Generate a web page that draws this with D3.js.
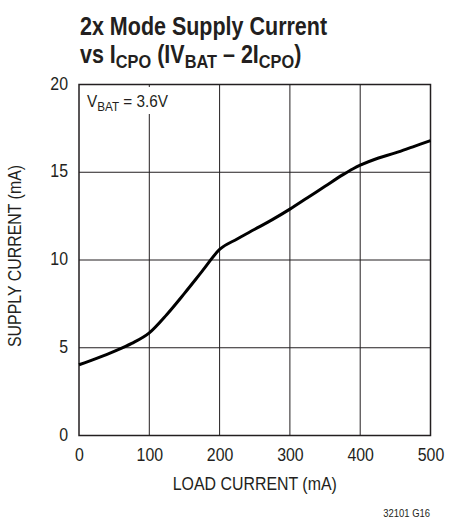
<!DOCTYPE html>
<html>
<head>
<meta charset="utf-8">
<script src="https://cdn.jsdelivr.net/npm/d3@7"></script>
<style>
  body { margin: 0; background: #fff; }
  svg text { font-family: "Liberation Sans", Arial, sans-serif; fill: #231f20; }
</style>
</head>
<body>
<svg></svg>
<script>
// load current (mA) and supply current (mA)
let loadCurrent = [0, 25, 50, 75, 100, 125, 150, 175, 200, 225, 250, 275, 300, 325, 350, 375, 390, 400, 425, 450, 475, 500];
let supplyCurrent = [4.03, 4.4, 4.8, 5.25, 5.85, 6.9, 8.1, 9.35, 10.6, 11.2, 11.75, 12.3, 12.9, 13.55, 14.2, 14.85, 15.2, 15.4, 15.8, 16.1, 16.45, 16.8];
let xTicks = [0, 100, 200, 300, 400, 500];
let yTicks = [0, 5, 10, 15, 20];

let width = 449;
let height = 529;
let plotLeft = 79, plotRight = 430.5, plotTop = 84.5, plotBottom = 435.5;
let narrow = 0.86; // fake the condensed face by squeezing text sideways

let svg = d3.select('svg').attr('width', width).attr('height', height);

let xScale = d3.scaleLinear().domain([0, 500]).range([plotLeft, plotRight]);
let yScale = d3.scaleLinear().domain([0, 20]).range([plotBottom, plotTop]);

// helper: text placed at (x, y), squeezed horizontally
let squeezed = (x, y, f, rotate) => {
  let g = svg.append('g')
      .attr('transform', 'translate(' + x + ',' + y + ')' + (rotate ? ' rotate(' + rotate + ')' : '') + ' scale(' + f + ',1)');
  return g.append('text');
}

// title
let title = squeezed(80, 35, narrow).style('font-size', '25px').style('font-weight', 'bold');
title.append('tspan').text('2x Mode Supply Current');
let t2 = squeezed(80, 63, narrow).style('font-size', '25px').style('font-weight', 'bold');
t2.append('tspan').text('vs I');
t2.append('tspan').attr('dy', 5).style('font-size', '19px').text('CPO');
t2.append('tspan').attr('dy', -5).text(' (IV');
t2.append('tspan').attr('dy', 5).style('font-size', '19px').text('BAT');
t2.append('tspan').attr('dy', -5).text(' \u2013 2I');
t2.append('tspan').attr('dy', 5).style('font-size', '19px').text('CPO');
t2.append('tspan').attr('dy', -5).text(')');

// grid
let grid = svg.append('g');
grid.selectAll('.vg').data(xTicks.slice(1, -1)).enter().append('line')
    .attr('x1', d => xScale(d)).attr('x2', d => xScale(d))
    .attr('y1', plotTop).attr('y2', plotBottom)
    .attr('stroke', '#231f20').attr('stroke-width', 1);
grid.selectAll('.hg').data(yTicks.slice(1, -1)).enter().append('line')
    .attr('x1', plotLeft).attr('x2', plotRight)
    .attr('y1', d => yScale(d)).attr('y2', d => yScale(d))
    .attr('stroke', '#231f20').attr('stroke-width', 1);

// annotation with white box over the grid
svg.append('rect').attr('x', 84).attr('y', 87).attr('width', 90).attr('height', 27).attr('fill', '#fff');
let ann = squeezed(87, 107, 0.9).style('font-size', '17px');
ann.append('tspan').text('V');
ann.append('tspan').attr('dy', 4).style('font-size', '13px').text('BAT');
ann.append('tspan').attr('dy', -4).text(' = 3.6V');

// frame
svg.append('rect').attr('x', plotLeft).attr('y', plotTop)
    .attr('width', plotRight - plotLeft).attr('height', plotBottom - plotTop)
    .attr('fill', 'none').attr('stroke', '#231f20').attr('stroke-width', 1.5);

// tick labels
let xAxis = d3.axisBottom(xScale).tickValues(xTicks).tickSize(0).tickPadding(12);
let gx = svg.append('g').attr('transform', 'translate(0,' + plotBottom + ')').call(xAxis);
gx.select('.domain').remove();
gx.selectAll('text').style('font-size', '18.5px').attr('transform', 'scale(' + narrow + ',1)');

let yAxis = d3.axisLeft(yScale).tickValues(yTicks).tickSize(0);
let gy = svg.append('g').attr('transform', 'translate(' + plotLeft + ',0)').call(yAxis);
gy.select('.domain').remove();
gy.selectAll('text').style('font-size', '18.5px').attr('x', -11 / narrow).attr('dy', '0.25em')
    .attr('transform', 'scale(' + narrow + ',1)');

// curve
let line = d3.line().x((d, i) => xScale(loadCurrent[i])).y(d => yScale(d)).curve(d3.curveMonotoneX);
svg.append('path').datum(supplyCurrent).attr('d', line)
    .attr('fill', 'none').attr('stroke', '#000').attr('stroke-width', 3);

// axis titles
squeezed((plotLeft + plotRight) / 2, 490, narrow).attr('text-anchor', 'middle')
    .style('font-size', '18.5px').text('LOAD CURRENT (mA)');
squeezed(15, 256, narrow, -90).attr('text-anchor', 'middle').attr('dy', '0.35em')
    .style('font-size', '18.5px').text('SUPPLY CURRENT (mA)');

squeezed(430, 517, narrow).attr('text-anchor', 'end')
    .style('font-size', '11px').text('32101 G16');
</script>
</body>
</html>
